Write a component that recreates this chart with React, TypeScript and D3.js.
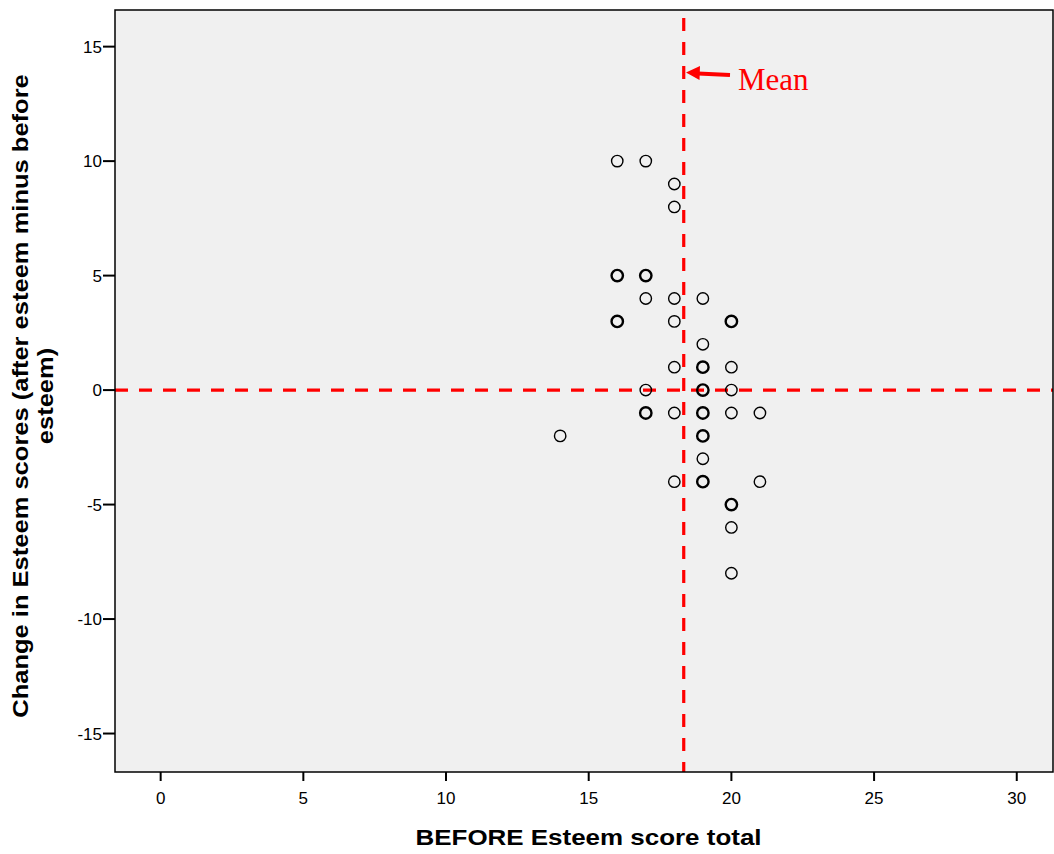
import React from "react";
import * as d3 from "d3";

const beforeScores = [16, 17, 18, 18, 16, 17, 17, 18, 19, 16, 18, 20, 19, 18, 19, 20, 17, 19, 20, 17, 18, 19, 20, 21, 14, 19, 19, 18, 19, 21, 20, 20, 20];
const changeScores = [10, 10, 9, 8, 5, 5, 4, 4, 4, 3, 3, 3, 2, 1, 1, 1, 0, 0, 0, -1, -1, -1, -1, -1, -2, -2, -3, -4, -4, -4, -5, -6, -8];
const pointCounts = [1, 1, 1, 1, 2, 2, 1, 1, 1, 2, 1, 2, 1, 1, 2, 1, 1, 2, 1, 2, 1, 2, 1, 1, 1, 2, 1, 1, 2, 1, 2, 1, 1];
const xTicks = [0, 5, 10, 15, 20, 25, 30];
const yTicks = [15, 10, 5, 0, -5, -10, -15];
const meanBefore = 18.33;
const meanChange = 0;

export default function App() {
  const W = 1054, H = 854;
  const left = 115, right = 1053, top = 10, bottom = 772;
  const x = d3.scaleLinear().domain([-1.6, 31.27]).range([left, right]);
  const y = d3.scaleLinear().domain([-16.68, 16.6]).range([bottom, top]);
  const font = "Arial, 'Liberation Sans', sans-serif";
  return (
    <svg width={W} height={H} style={{ position: "absolute", left: 0, top: 0 }}>
      <defs>
        <clipPath id="plot"><rect x={left} y={top} width={right - left} height={bottom - top} /></clipPath>
      </defs>
      <rect x={0} y={0} width={W} height={H} fill="#fff" />
      <rect x={left} y={top} width={right - left} height={bottom - top} fill="#f0f0f0" />
      <g clipPath="url(#plot)">
        <line x1={left} x2={right} y1={y(meanChange)} y2={y(meanChange)} stroke="#ff0000" strokeWidth={3.2} strokeDasharray="13 11" />
        <line x1={x(meanBefore)} x2={x(meanBefore)} y1={top} y2={bottom} stroke="#ff0000" strokeWidth={3.2} strokeDasharray="13 11" strokeDashoffset={-8} />
        {beforeScores.map((b, i) => (
          <circle key={i} cx={x(b)} cy={y(changeScores[i])} r={5.7} fill="none" stroke="#000" strokeWidth={pointCounts[i] > 1 ? 2.4 : 1.4} />
        ))}
      </g>
      <rect x={left} y={top} width={right - left} height={bottom - top} fill="none" stroke="#000" strokeWidth={1.5} />
      {xTicks.map((t) => (
        <g key={"x" + t}>
          <line x1={x(t)} x2={x(t)} y1={bottom} y2={bottom + 9} stroke="#000" strokeWidth={2} />
          <text x={x(t)} y={bottom + 32} textAnchor="middle" fontFamily={font} fontSize={17} fill="#000">{t}</text>
        </g>
      ))}
      {yTicks.map((t) => (
        <g key={"y" + t}>
          <line x1={left - 12} x2={left} y1={y(t)} y2={y(t)} stroke="#000" strokeWidth={2} />
          <text x={left - 13} y={y(t) + 6} textAnchor="end" fontFamily={font} fontSize={17} fill="#000">{t}</text>
        </g>
      ))}
      <g transform="translate(588.5, 845) scale(1.18, 1)">
        <text x={0} y={0} textAnchor="middle" fontFamily={font} fontSize={22} fontWeight="bold" fill="#000">BEFORE Esteem score total</text>
      </g>
      <g transform="translate(0, 396) rotate(-90) scale(1.16, 1)">
        <text x={0} y={28} textAnchor="middle" fontFamily={font} fontSize={22} fontWeight="bold" fill="#000">Change in Esteem scores (after esteem minus before</text>
        <text x={0} y={53} textAnchor="middle" fontFamily={font} fontSize={22} fontWeight="bold" fill="#000">esteem)</text>
      </g>
      <line x1={730} y1={75} x2={698} y2={73.5} stroke="#ff0000" strokeWidth={4} />
      <path d="M686,72.5 L700,66 L699.5,80 Z" fill="#ff0000" />
      <text x={738} y={90} fontFamily="'Liberation Serif', 'Times New Roman', serif" fontSize={31} fill="#ff0000">Mean</text>
    </svg>
  );
}
